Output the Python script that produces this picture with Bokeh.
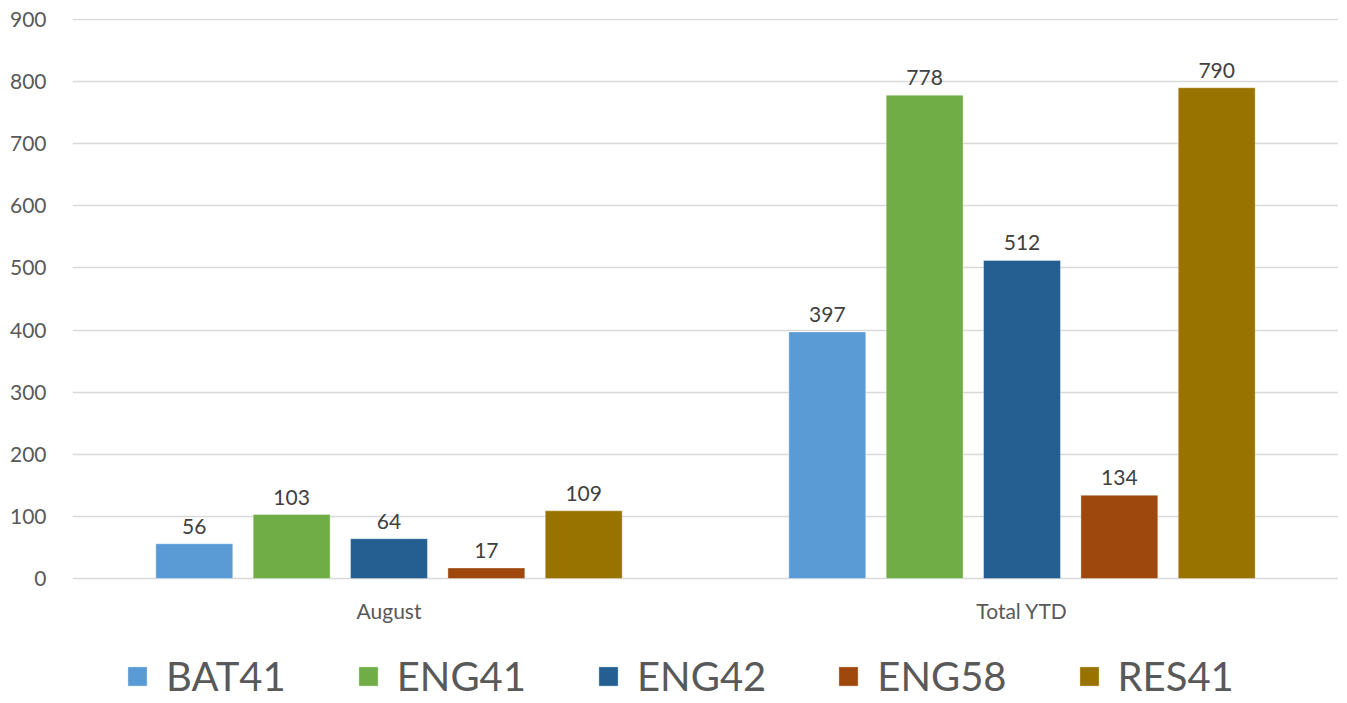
from bokeh.plotting import figure
from bokeh.models import FactorRange, Range1d, ColumnDataSource, Legend, LegendItem, FixedTicker
from bokeh.transform import dodge
from bokeh.core.properties import value
from bokeh.embed import file_html
from bokeh.resources import INLINE

categories = ["August", "Total YTD"]
series = ["BAT41", "ENG41", "ENG42", "ENG58", "RES41"]
BAT41 = [56, 397]
ENG41 = [103, 778]
ENG42 = [64, 512]
ENG58 = [17, 134]
RES41 = [109, 790]
values = [BAT41, ENG41, ENG42, ENG58, RES41]
colors = ["#5B9BD5", "#70AD47", "#255E91", "#9E480E", "#997300"]
yticks = list(range(0, 1000, 100))

FONT = "Lato"

p = figure(x_range=FactorRange(*categories, range_padding=0), y_range=Range1d(-196.4, 901.5),
           frame_width=1266, frame_height=682, output_backend="svg", toolbar_location=None,
           min_border_left=72, min_border_right=0, min_border_top=18, min_border_bottom=0)
p.outline_line_color = None

pitch = 0.1538
bw = 0.1215
items = []
for i, (name, vals, col) in enumerate(zip(series, values, colors)):
    src = ColumnDataSource(dict(cat=categories, val=vals, lab=[str(v) for v in vals]))
    off = (i - 2) * pitch
    r = p.vbar(x=dodge("cat", off, range=p.x_range), top="val", bottom=0, width=bw, source=src,
               fill_color=col, line_color="white", line_width=0.6, line_alpha=0.6)
    p.text(x=dodge("cat", off, range=p.x_range), y="val", text="lab", source=src,
           y_offset=-10, text_align="center", text_baseline="bottom",
           text_font=value(FONT), text_font_size="21px", text_color="#404040")
    items.append(LegendItem(label=name, renderers=[r]))

# category labels under the zero line
cat_src = ColumnDataSource(dict(cat=categories, y0=[0, 0]))
p.text(x="cat", y="y0", text="cat", source=cat_src, y_offset=32,
       text_align="center", text_baseline="middle",
       text_font=value(FONT), text_font_size="21px", text_color="#595959")

p.yaxis.ticker = FixedTicker(ticks=yticks)
p.yaxis.axis_line_color = None
p.yaxis.major_tick_line_color = None
p.yaxis.minor_tick_line_color = None
p.yaxis.major_label_text_font = FONT
p.yaxis.major_label_text_font_size = "21px"
p.yaxis.major_label_text_color = "#595959"
p.yaxis.major_label_standoff = 20

p.xaxis.visible = False

p.xgrid.grid_line_color = None
p.ygrid.grid_line_color = "#D9D9D9"
p.ygrid.grid_line_width = 1.5

legend = Legend(items=items, orientation="horizontal", location=(53, 0),
                glyph_width=24, glyph_height=24, label_standoff=17, spacing=70,
                label_text_font=FONT, label_text_font_size="40px", label_text_color="#595959",
                border_line_color=None, background_fill_alpha=0, padding=0, margin=0)
p.add_layout(legend, "center")

open("out.html", "w").write(file_html(p, INLINE))
